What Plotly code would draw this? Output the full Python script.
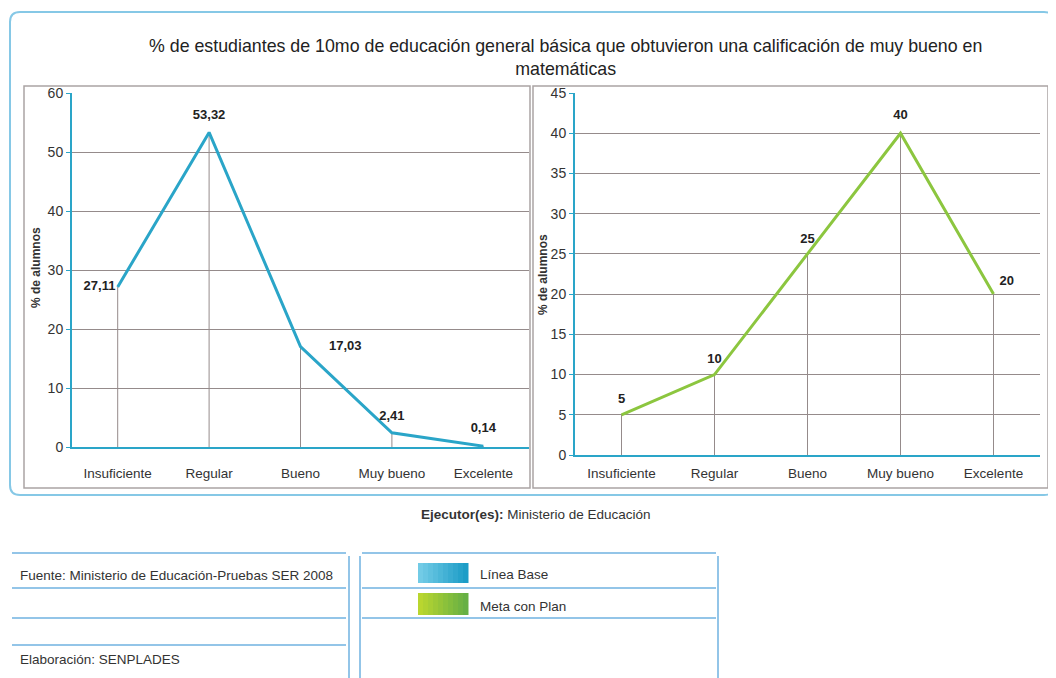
import plotly.graph_objects as go

# the page body adds an 8px margin, so the figure is drawn 8px in from the corner
OFF = 8
W, H = 1056 - OFF, 678 - OFF

# data
categorias = ["Insuficiente", "Regular", "Bueno", "Muy bueno", "Excelente"]
linea_base = [27.11, 53.32, 17.03, 2.41, 0.14]
meta_plan = [5, 10, 25, 40, 20]

azul = "#2aa5c8"
verde = "#8cc63f"
gris = "#958b8b"
font_fam = "Liberation Sans, Arial, sans-serif"


def fx(x):
    return (x - OFF) / W


def fy(y):
    return 1 - (y - OFF) / H


def drop(vals):
    xs, ys = [], []
    for c, v in zip(categorias, vals):
        xs += [c, c, None]
        ys += [v, 0, None]
    return xs, ys


def etiqueta(v):
    return f"{v:.2f}".replace(".", ",") if v != int(v) else str(int(v))


fig = go.Figure()

lbl_font = dict(size=13, color="#222", family=font_fam, weight="bold")
invisible = "rgba(0,0,0,0)"

# left chart
dx, dy = drop(linea_base)
fig.add_trace(go.Scatter(x=dx, y=dy, mode="lines", line=dict(color=gris, width=1),
                         xaxis="x", yaxis="y", hoverinfo="skip"))
fig.add_trace(go.Scatter(x=categorias, y=linea_base, mode="lines+markers+text",
                         line=dict(color=azul, width=3),
                         # transparent markers only push the labels away from the line
                         marker=dict(color=invisible, size=[2, 14, 44, 14, 16],
                                     line=dict(width=0, color=invisible)),
                         text=[etiqueta(v) for v in linea_base],
                         textposition=["middle left", "top center", "middle right", "top center", "top center"],
                         textfont=lbl_font, xaxis="x", yaxis="y", name="Línea Base"))

# right chart
dx, dy = drop(meta_plan)
fig.add_trace(go.Scatter(x=dx, y=dy, mode="lines", line=dict(color=gris, width=1),
                         xaxis="x2", yaxis="y2", hoverinfo="skip"))
fig.add_trace(go.Scatter(x=categorias, y=meta_plan, mode="lines+markers+text",
                         line=dict(color=verde, width=3),
                         marker=dict(color=invisible, size=[12, 12, 10, 16, 8],
                                     line=dict(width=0, color=invisible)),
                         text=[etiqueta(v) for v in meta_plan],
                         textposition=["top center", "top center", "top center", "top center", "top right"],
                         textfont=lbl_font, xaxis="x2", yaxis="y2", name="Meta con Plan"))

tick_font = dict(size=13.5, color="#333", family=font_fam)
xcommon = dict(type="category", range=[-0.5, 4.5], showgrid=False, showline=True,
               linecolor=azul, linewidth=2, ticks="", automargin=False,
               tickfont=tick_font, fixedrange=True)
ycommon = dict(showgrid=True, gridcolor=gris, gridwidth=1, showline=True, linecolor=azul,
               linewidth=2, ticks="outside", tickcolor=azul, ticklen=4, automargin=False,
               zeroline=False, tickfont=dict(tick_font, size=14), fixedrange=True)

fig.update_layout(
    width=W, height=H, margin=dict(l=0, r=0, t=0, b=0),
    paper_bgcolor="white", plot_bgcolor="white", showlegend=False,
    font=dict(family=font_fam, color="#222"),
    xaxis=dict(xcommon, domain=[fx(72), fx(529)], anchor="y", ticklabelstandoff=13),
    yaxis=dict(ycommon, domain=[fy(447), fy(93)], range=[0, 60], dtick=10, anchor="x"),
    xaxis2=dict(xcommon, domain=[fx(575), fx(1040)], anchor="y2", ticklabelstandoff=5),
    yaxis2=dict(ycommon, domain=[fy(455), fy(93)], range=[0, 45], dtick=5, anchor="x2"),
)

shapes = []
# outer rounded frame
x0, y0, x1, y1, r = 10, 12, 1054, 495, 10
path = (f"M {fx(x0+r)},{fy(y0)} L {fx(x1-r)},{fy(y0)} Q {fx(x1)},{fy(y0)} {fx(x1)},{fy(y0+r)} "
        f"L {fx(x1)},{fy(y1-r)} Q {fx(x1)},{fy(y1)} {fx(x1-r)},{fy(y1)} "
        f"L {fx(x0+r)},{fy(y1)} Q {fx(x0)},{fy(y1)} {fx(x0)},{fy(y1-r)} "
        f"L {fx(x0)},{fy(y0+r)} Q {fx(x0)},{fy(y0)} {fx(x0+r)},{fy(y0)} Z")
shapes.append(dict(type="path", xref="paper", yref="paper", path=path,
                   line=dict(color="#86c8e6", width=2), layer="below"))
# chart panels
for a, b in [(24, 530), (533, 1048)]:
    shapes.append(dict(type="rect", xref="paper", yref="paper", x0=fx(a), x1=fx(b),
                       y0=fy(488), y1=fy(86), line=dict(color="#aaa4a4", width=1.5), layer="below"))

linea = dict(color="#6fb2e0", width=1.5)
# source box lines
for yy in [553, 588, 618, 645]:
    shapes.append(dict(type="line", xref="paper", yref="paper", x0=fx(12), x1=fx(346),
                       y0=fy(yy), y1=fy(yy), line=linea))
shapes.append(dict(type="line", xref="paper", yref="paper", x0=fx(349), x1=fx(349),
                   y0=fy(556), y1=fy(678), line=linea))
# legend box lines
for yy in [553, 588, 618]:
    shapes.append(dict(type="line", xref="paper", yref="paper", x0=fx(362), x1=fx(716),
                       y0=fy(yy), y1=fy(yy), line=linea))
for xx in [360, 718]:
    shapes.append(dict(type="line", xref="paper", yref="paper", x0=fx(xx), x1=fx(xx),
                       y0=fy(556), y1=fy(678), line=linea))


# legend swatches with a light-to-dark sweep
def mezcla(c1, c2, t):
    a = [int(c1[i:i + 2], 16) for i in (1, 3, 5)]
    b = [int(c2[i:i + 2], 16) for i in (1, 3, 5)]
    return "rgb(%d,%d,%d)" % tuple(round(p + (q - p) * t) for p, q in zip(a, b))


n = 10
for (ya, yb, c1, c2) in [(563, 583, "#72cbe6", "#1d9dc7"), (593, 615, "#b9d62f", "#67b044")]:
    for i in range(n):
        shapes.append(dict(type="rect", xref="paper", yref="paper",
                           x0=fx(418 + 50 * i / n), x1=fx(418 + 50 * (i + 1) / n + 0.5),
                           y0=fy(yb), y1=fy(ya), fillcolor=mezcla(c1, c2, i / (n - 1)),
                           line=dict(width=0)))
fig.update_layout(shapes=shapes)

txt = dict(size=13.5, color="#333")
ann = [
    dict(x=fx(565), y=fy(57), text="% de estudiantes de 10mo de educación general básica que obtuvieron una calificación de muy bueno en<br>matemáticas",
         font=dict(size=17.8, color="#222")),
    dict(x=fx(36), y=fy(268), text="<b>% de alumnos</b>", textangle=-90, font=dict(size=12, color="#333")),
    dict(x=fx(543), y=fy(275), text="<b>% de alumnos</b>", textangle=-90, font=dict(size=12, color="#333")),
    dict(x=fx(536), y=fy(514), text="<b>Ejecutor(es):</b> Ministerio de Educación", font=txt),
    dict(x=fx(18), y=fy(575), text="Fuente: Ministerio de Educación-Pruebas SER 2008", xanchor="left", font=txt),
    dict(x=fx(18), y=fy(659), text="Elaboración: SENPLADES", xanchor="left", font=txt),
    dict(x=fx(478), y=fy(574), text="Línea Base", xanchor="left", font=txt),
    dict(x=fx(478), y=fy(606), text="Meta con Plan", xanchor="left", font=txt),
]
for a in ann:
    a.update(xref="paper", yref="paper", showarrow=False)
    a.setdefault("xanchor", "center")
    a.setdefault("yanchor", "middle")
fig.update_layout(annotations=ann)

fig.write_html("out.html")
